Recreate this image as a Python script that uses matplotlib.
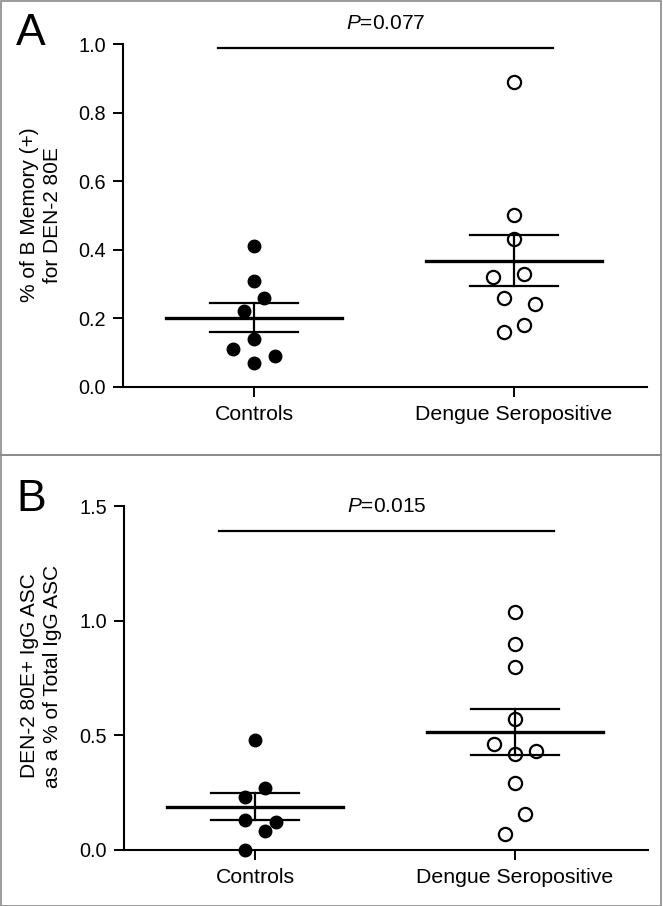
import numpy as np
import matplotlib
matplotlib.use("Agg")
import matplotlib.pyplot as plt
from matplotlib.ticker import FormatStrFormatter
from matplotlib.patches import Rectangle

plt.rcParams['font.family'] = ['Liberation Sans', 'DejaVu Sans']
plt.rcParams['mathtext.fontset'] = 'custom'
plt.rcParams['mathtext.it'] = 'Liberation Sans:italic'
plt.rcParams['mathtext.rm'] = 'Liberation Sans'

groups = ["Controls", "Dengue Seropositive"]

# panel A: % of B memory (+) for DEN-2 80E
ctrl_a = [0.41, 0.31, 0.26, 0.22, 0.14, 0.11, 0.09, 0.07]
ctrl_a_jit = [0, 0, 0.04, -0.04, 0, -0.08, 0.08, 0]
den_a = [0.89, 0.50, 0.43, 0.32, 0.33, 0.26, 0.24, 0.18, 0.16]
den_a_jit = [0, 0, 0, -0.08, 0.04, -0.04, 0.08, 0.04, -0.04]
p_a = "0.077"

# panel B: DEN-2 80E+ IgG ASC as % of total IgG ASC
ctrl_b = [0.48, 0.27, 0.23, 0.13, 0.12, 0.08, 0.0]
ctrl_b_jit = [0, 0.04, -0.04, -0.04, 0.08, 0.04, -0.04]
den_b = [1.04, 0.90, 0.80, 0.57, 0.46, 0.42, 0.43, 0.29, 0.155, 0.07]
den_b_jit = [0, 0, 0, 0, -0.08, 0, 0.08, 0, 0.04, -0.04]
p_b = "0.015"

W, H = 663, 906
fig = plt.figure(figsize=(W / 100, H / 100), dpi=100)

# gray panel frames
for y0, y1 in [(0.5, 455), (455, 905.5)]:
    fig.patches.append(Rectangle((0.5 / W, 1 - y1 / H), (660.5) / W, (y1 - y0) / H,
                                 transform=fig.transFigure, fill=False,
                                 edgecolor="#8a8a8a", lw=1.2))


def draw_panel(ax, ctrl, ctrl_jit, den, den_jit, ymax, yticks, pline_y, ptext_y, pval):
    for i, (vals, jit, filled) in enumerate([(ctrl, ctrl_jit, True), (den, den_jit, False)]):
        x = i + np.array(jit)
        if filled:
            ax.plot(x, vals, 'o', ms=9, mfc='black', mec='black', mew=1, zorder=2, clip_on=False)
        else:
            ax.plot(x, vals, 'o', ms=9.5, mfc='white', mec='black', mew=1.6, zorder=2, clip_on=False)
        v = np.array(vals)
        m = v.mean()
        sem = v.std(ddof=1) / np.sqrt(len(v))
        ax.plot([i - 0.338, i + 0.338], [m, m], color='black', lw=2.4, zorder=3)
        ax.plot([i - 0.169, i + 0.169], [m + sem, m + sem], color='black', lw=1.6, zorder=3)
        ax.plot([i - 0.169, i + 0.169], [m - sem, m - sem], color='black', lw=1.6, zorder=3)
        ax.plot([i, i], [m - sem, m + sem], color='black', lw=1.6, zorder=3)

    ax.plot([-0.14, 1.15], [pline_y, pline_y], color='black', lw=1.6, clip_on=False)
    ax.text(0.505, ptext_y, r"$\it{P}$=" + pval, ha='center', va='center', fontsize=15)

    ax.set_xlim(-0.504, 1.512)
    ax.set_ylim(0, ymax)
    ax.set_yticks(yticks)
    ax.yaxis.set_major_formatter(FormatStrFormatter('%.1f'))
    ax.set_xticks([0, 1])
    ax.set_xticklabels(groups, fontsize=15.3)
    ax.tick_params(axis='y', labelsize=14.3, length=7.5, width=1.4, pad=5)
    ax.tick_params(axis='x', length=7.5, width=1.4, pad=6)
    for s in ['top', 'right']:
        ax.spines[s].set_visible(False)
    for s in ['left', 'bottom']:
        ax.spines[s].set_linewidth(1.5)


ax_a = fig.add_axes([123 / W, 1 - 386.7 / H, 524 / W, 342.5 / H])
draw_panel(ax_a, ctrl_a, ctrl_a_jit, den_a, den_a_jit, 1.0,
           [0.0, 0.2, 0.4, 0.6, 0.8, 1.0], 0.99, 1.061, p_a)

ax_b = fig.add_axes([124 / W, 1 - 849.7 / H, 524 / W, 343.3 / H])
draw_panel(ax_b, ctrl_b, ctrl_b_jit, den_b, den_b_jit, 1.5,
           [0.0, 0.5, 1.0, 1.5], 1.391, 1.5, p_b)

fig.text(41 / W, 1 - 215 / H, "% of B Memory (+)\nfor DEN-2 80E", rotation=90,
         ha='center', va='center', multialignment='center', fontsize=15, linespacing=1.32)
fig.text(41 / W, 1 - 676 / H, "DEN-2 80E+ IgG ASC\nas a % of Total IgG ASC", rotation=90,
         ha='center', va='center', multialignment='center', fontsize=15, linespacing=1.32)

fig.text(31 / W, 1 - 45 / H, "A", ha='center', va='baseline', fontsize=32)
fig.text(31 / W, 1 - 510.5 / H, "B", ha='center', va='baseline', fontsize=32)

fig.savefig("out.png", dpi=100)
